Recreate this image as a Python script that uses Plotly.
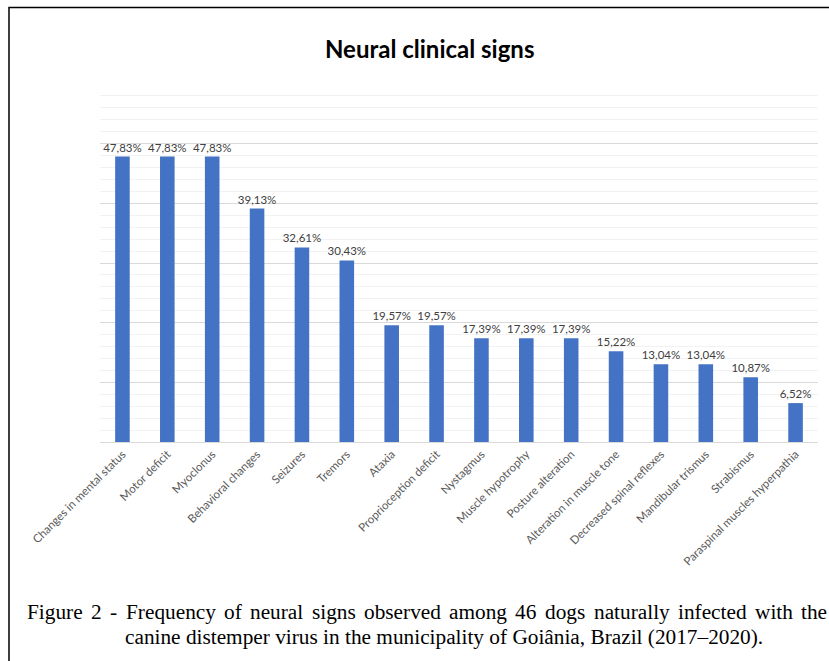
import plotly.graph_objects as go

# Neural clinical signs and their frequency (%) among 46 dogs
signs = [
    "Changes in mental status", "Motor deficit", "Myoclonus", "Behavioral changes",
    "Seizures", "Tremors", "Ataxia", "Proprioception deficit", "Nystagmus",
    "Muscle hypotrophy", "Posture alteration", "Alteration in muscle tone",
    "Decreased spinal reflexes", "Mandibular trismus", "Strabismus",
    "Paraspinal muscles hyperpathia",
]
frequency = [47.83, 47.83, 47.83, 39.13, 32.61, 30.43, 19.57, 19.57, 17.39,
             17.39, 17.39, 15.22, 13.04, 13.04, 10.87, 6.52]

title_text = "Neural clinical signs"
caption_line1 = "Figure 2 - Frequency of neural signs observed among 46 dogs naturally infected with the"
caption_line2 = "canine distemper virus in the municipality of Goiânia, Brazil (2017–2020)."

W, H = 829, 661
M_L, M_R, M_T, M_B = 100, 11, 84, 219
PW, PH = W - M_L - M_R, H - M_T - M_B


def px_x(px):
    return (px - M_L) / PW


def px_y(py):
    return (H - M_B - py) / PH


labels = [f"{v:.2f}".replace(".", ",") + "%" for v in frequency]

fig = go.Figure(
    go.Bar(
        x=signs,
        y=frequency,
        text=labels,
        textposition="outside",
        constraintext="none",
        cliponaxis=False,
        textfont=dict(family="Lato", size=11.5, color="#404040"),
        marker=dict(color="#4472C4", line=dict(width=0)),
        hoverinfo="skip",
    )
)

fig.update_layout(
    width=W, height=H, autosize=False,
    margin=dict(l=M_L, r=M_R, t=M_T, b=M_B, pad=0),
    paper_bgcolor="white", plot_bgcolor="white",
    bargap=0.675,
    showlegend=False,
    font=dict(family="Lato", color="#595959"),
)

fig.update_xaxes(
    tickangle=-45,
    tickfont=dict(family="Lato", size=11.5, color="#595959"),
    showline=True, linecolor="#d9d9d9", linewidth=1,
    ticks="", showgrid=False,
)
fig.update_yaxes(
    range=[0, 60], dtick=10,
    showticklabels=False, ticks="",
    showgrid=True, gridcolor="#d9d9d9", gridwidth=1,
    zeroline=False,
    minor=dict(dtick=2, showgrid=True, gridcolor="#f2f2f2", gridwidth=1),
)

annotations = [
    dict(text=f"<b>{title_text}</b>", xref="paper", yref="paper",
         x=px_x(429), y=px_y(48), xanchor="center", yanchor="middle",
         showarrow=False, font=dict(family="Lato", size=24, color="#000000")),
]

# Times-Roman advance widths (per 1000 em) used to justify the first caption line
TIMES_W = {
    "a": 444, "b": 500, "c": 444, "d": 500, "e": 444, "f": 333, "g": 500, "h": 500,
    "i": 278, "j": 278, "k": 500, "l": 278, "m": 778, "n": 500, "o": 500, "p": 500,
    "q": 500, "r": 333, "s": 389, "t": 278, "u": 500, "v": 500, "w": 722, "x": 500,
    "y": 500, "z": 444, "F": 556, "-": 333,
}
for d in "0123456789":
    TIMES_W[d] = 500

CAP_SIZE = 21.3
cap_font = dict(family="Liberation Serif", size=CAP_SIZE, color="#000000")
line_left, line_right = 25, 825
words = caption_line1.split(" ")
widths = [sum(TIMES_W.get(ch, 500) for ch in w) * CAP_SIZE / 1000 for w in words]
gap = (line_right - line_left - sum(widths)) / (len(words) - 1)
x = line_left
for word, w in zip(words, widths):
    annotations.append(dict(text=word, xref="paper", yref="paper",
                            x=px_x(x), y=px_y(612), xanchor="left", yanchor="middle",
                            showarrow=False, font=cap_font))
    x += w + gap
annotations.append(dict(text=caption_line2, xref="paper", yref="paper",
                        x=px_x(123), y=px_y(637), xanchor="left", yanchor="middle",
                        showarrow=False, font=cap_font))
fig.update_layout(annotations=annotations)

# Frame around the figure
fig.add_shape(type="rect", xref="paper", yref="paper",
              x0=px_x(9), x1=px_x(W + 20), y0=px_y(H + 20), y1=px_y(7.5),
              line=dict(color="#000000", width=1.5), fillcolor="rgba(0,0,0,0)",
              layer="above")

fig.write_html("out.html")
